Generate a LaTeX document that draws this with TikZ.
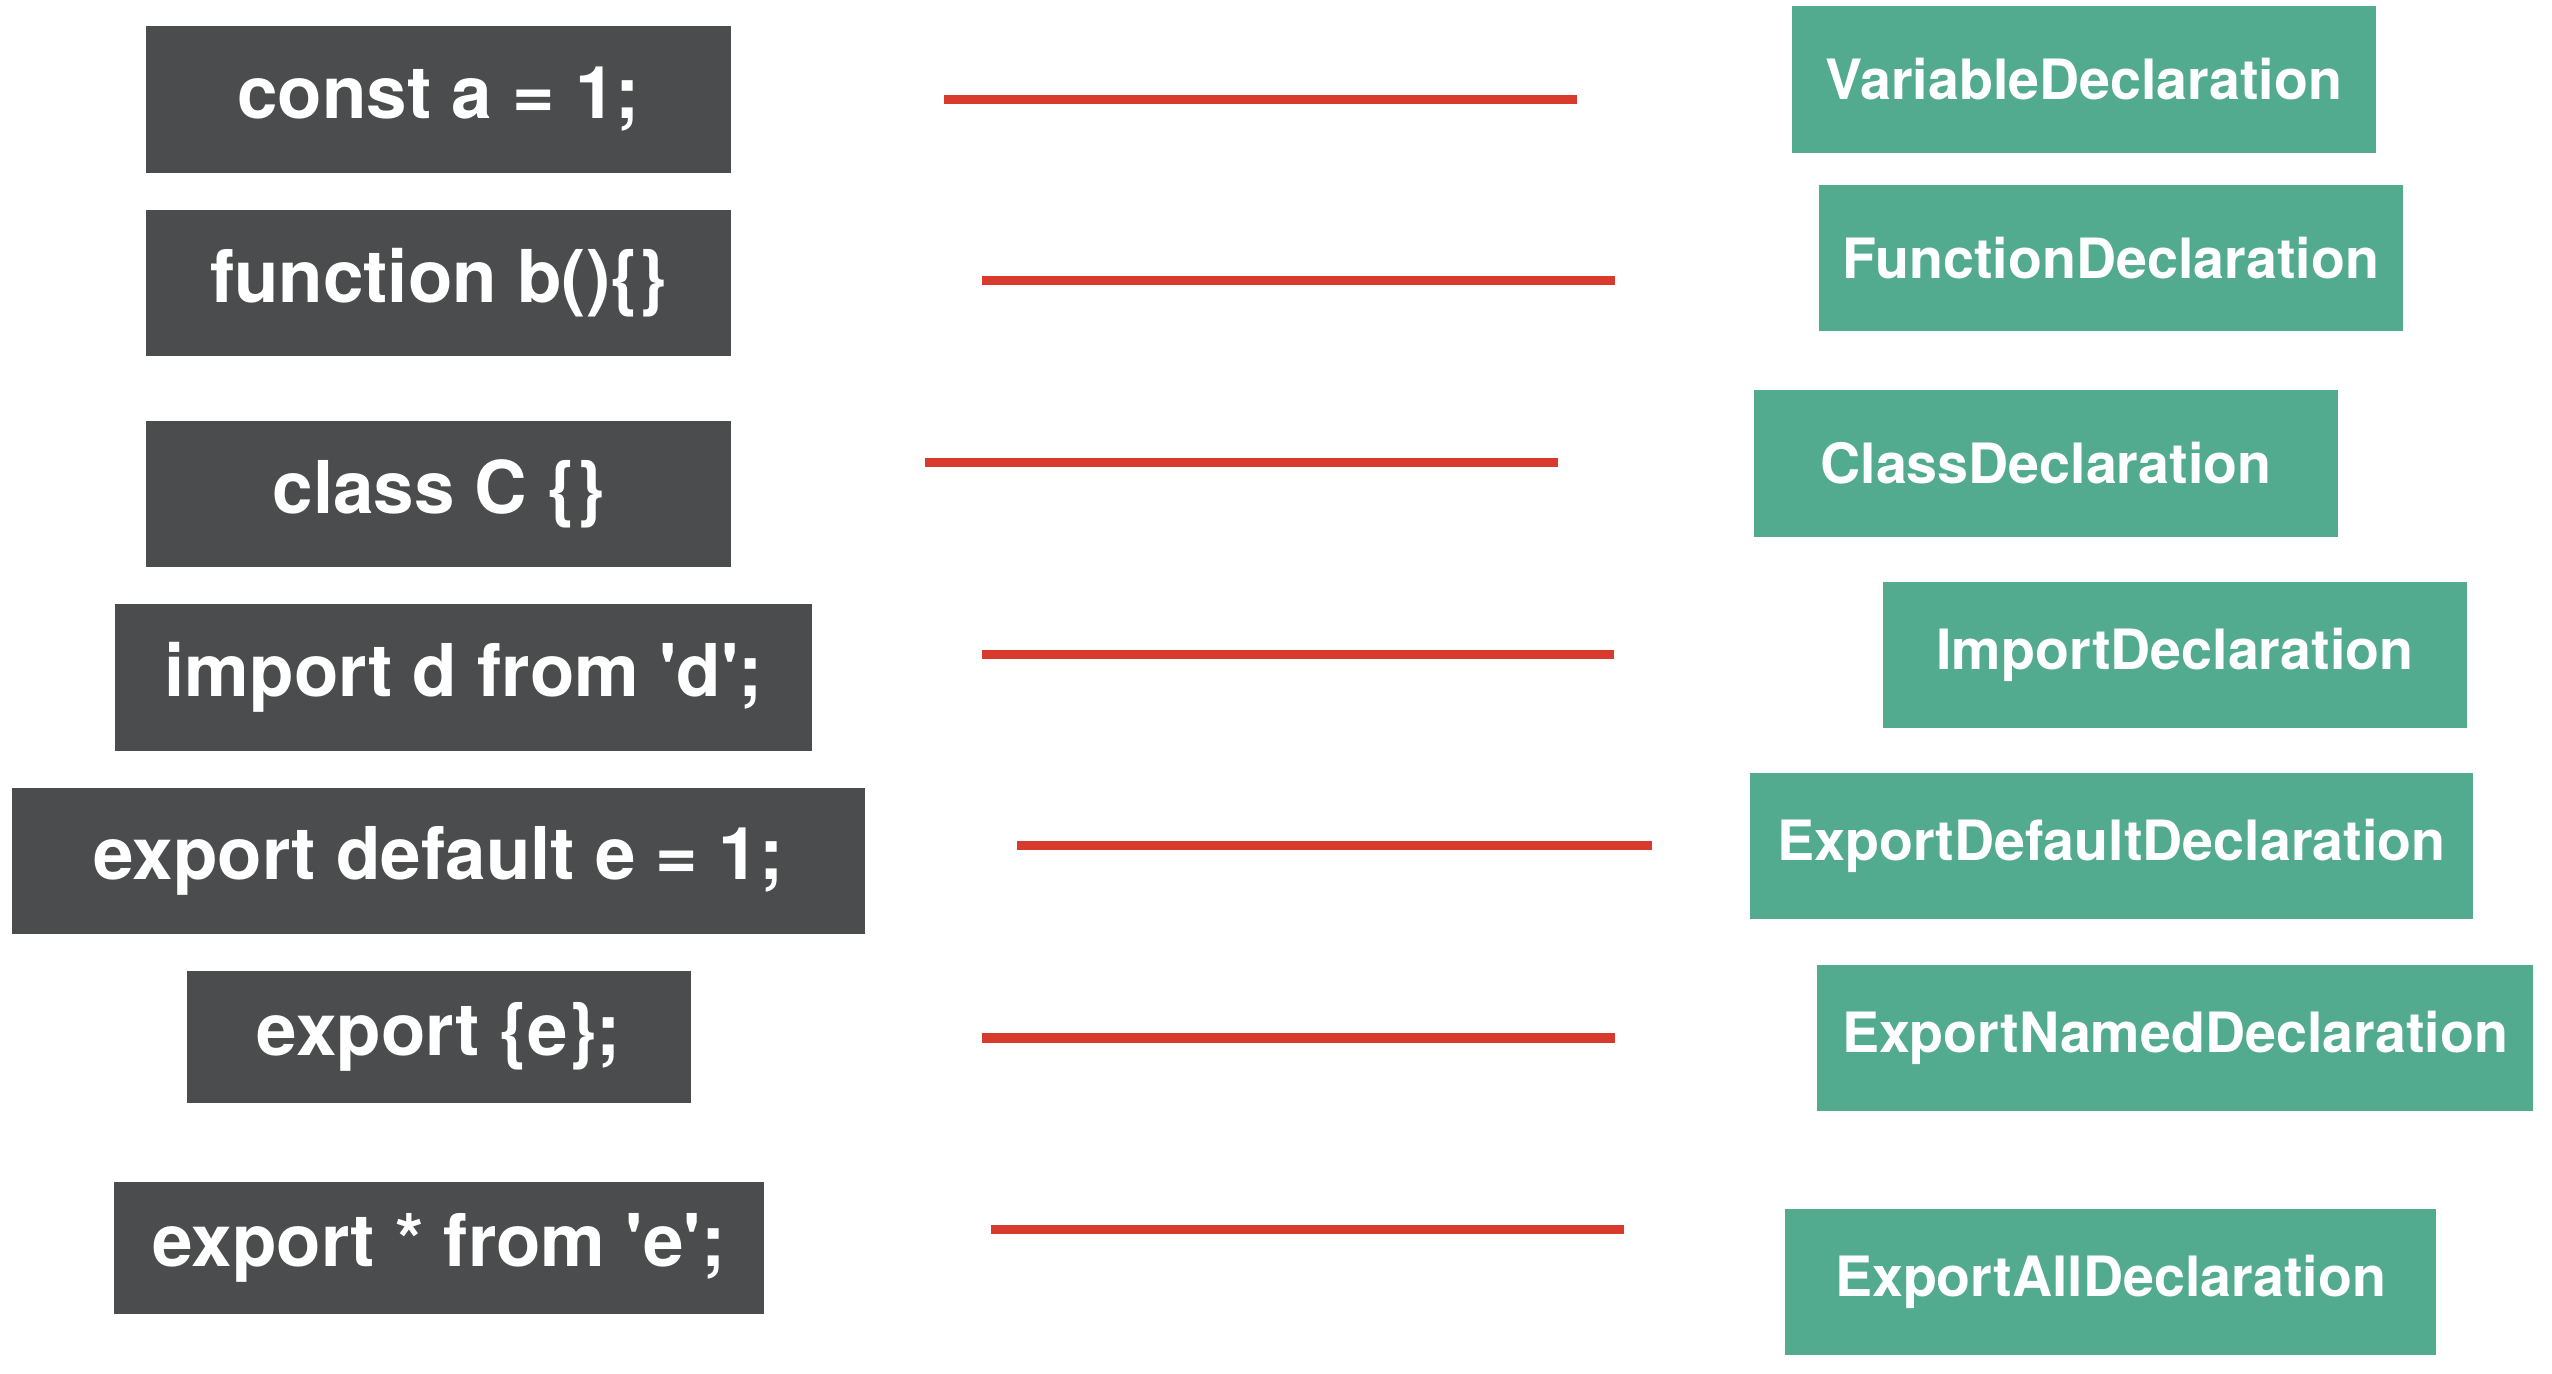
\documentclass[tikz,border=0pt]{standalone}
\usepackage{fontspec}
\setmainfont{TeX Gyre Heros}
\usetikzlibrary{positioning}

\definecolor{codegray}{HTML}{4B4C4E}
\definecolor{astgreen}{HTML}{52AB8F}
\definecolor{markred}{HTML}{D83A2E}

\begin{document}
\begin{tikzpicture}[
  x = 0.01cm,
  y = -0.01cm,
  code-box/.style = {fill=codegray, text=white, inner sep=0pt,
    minimum width=5.85cm, minimum height=1.46cm,
    font=\fontsize{20.7}{25}\selectfont\bfseries},
  ast-box/.style = {fill=astgreen, text=white, inner sep=0pt,
    minimum width=5.84cm, minimum height=1.46cm,
    font=\fontsize{15.8}{19}\selectfont\bfseries},
  mark-line/.style = {draw=markred, line width=0.09cm},
  ]
  \useasboundingbox (0,0) rectangle (2552,1374);

  % source snippets
  \node[code-box] (code-const) at (438.5,99.5) {const a = 1;};
  \node[code-box] (code-function) at (438.5,283) {function b()\{\}};
  \node[code-box] (code-class) at (438.5,494) {class C \{\}};
  \node[code-box, minimum width=6.97cm] (code-import) at (463.5,677.5) {import d from \textquotesingle d\textquotesingle;};
  \node[code-box, minimum width=8.53cm] (code-default) at (438.5,861) {export default e = 1;};
  \node[code-box, minimum width=5.04cm, minimum height=1.32cm] (code-named) at (439,1037) {export \{e\};};
  \node[code-box, minimum width=6.50cm, minimum height=1.32cm] (code-all) at (439,1248) {export * from \textquotesingle e\textquotesingle;};

  % node types
  \node[ast-box] (ast-variable) at (2084,79.5) {VariableDeclaration};
  \node[ast-box] (ast-function) at (2111,258) {FunctionDeclaration};
  \node[ast-box] (ast-class) at (2046,463.5) {ClassDeclaration};
  \node[ast-box] (ast-import) at (2175,655) {ImportDeclaration};
  \node[ast-box, minimum width=7.23cm] (ast-default) at (2111.5,846) {ExportDefaultDeclaration};
  \node[ast-box, minimum width=7.16cm] (ast-named) at (2175,1038) {ExportNamedDeclaration};
  \node[ast-box, minimum width=6.51cm] (ast-all) at (2110.5,1282) {ExportAllDeclaration};

  % matching strokes
  \coordinate (mark-const-w) at (944,100);
  \coordinate (mark-const-e) at (1577,100);
  \coordinate (mark-function-w) at (982,281);
  \coordinate (mark-function-e) at (1615,281);
  \coordinate (mark-class-w) at (925,463);
  \coordinate (mark-class-e) at (1558,463);
  \coordinate (mark-import-w) at (982,655);
  \coordinate (mark-import-e) at (1614,655);
  \coordinate (mark-default-w) at (1017,846);
  \coordinate (mark-default-e) at (1652,846);
  \coordinate (mark-named-w) at (982,1038);
  \coordinate (mark-named-e) at (1615,1038);
  \coordinate (mark-all-w) at (991,1229);
  \coordinate (mark-all-e) at (1624,1229);

  \draw[mark-line] (mark-const-w) -- (mark-const-e);
  \draw[mark-line] (mark-function-w) -- (mark-function-e);
  \draw[mark-line] (mark-class-w) -- (mark-class-e);
  \draw[mark-line] (mark-import-w) -- (mark-import-e);
  \draw[mark-line] (mark-default-w) -- (mark-default-e);
  \draw[mark-line] (mark-named-w) -- (mark-named-e);
  \draw[mark-line] (mark-all-w) -- (mark-all-e);
\end{tikzpicture}
\end{document}
